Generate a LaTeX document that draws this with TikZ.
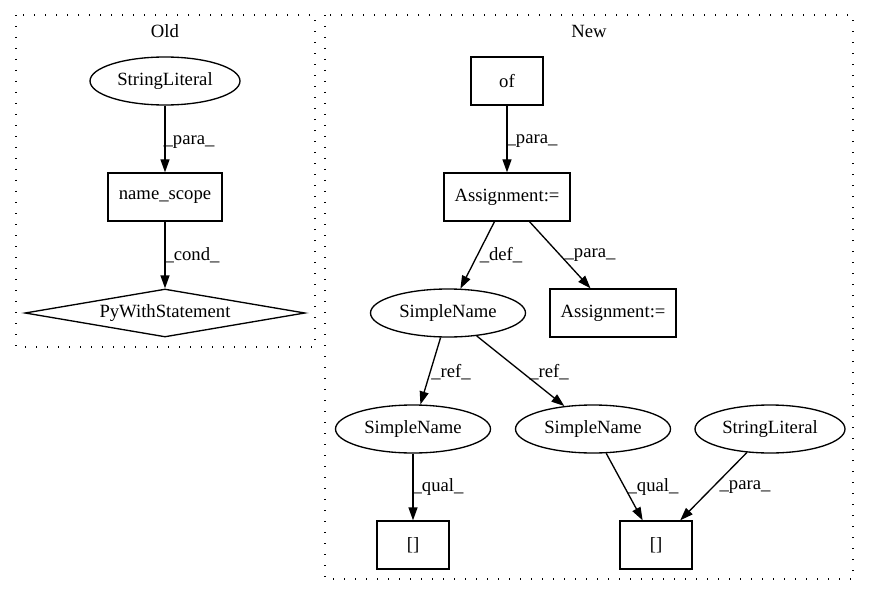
\documentclass[tikz,border=0pt]{standalone}
\usepackage{fontspec}
\setmainfont{Liberation Serif}
\usetikzlibrary{arrows.meta, shapes.geometric}

\begin{document}
\begin{tikzpicture}[x=1pt, y=-1pt, font=\fontsize{18.67}{22}\selectfont,
    ell/.style={ellipse, draw, line width=1.33pt, inner sep=0pt, minimum height=48pt},
    box/.style={rectangle, draw, line width=1.33pt, inner sep=0pt, minimum height=48pt},
    dia/.style={diamond, draw, line width=1.33pt, inner sep=0pt, aspect=5.83, minimum width=280pt, minimum height=48pt},
    arr/.style={-{Triangle[length=13pt, width=9pt]}, line width=1.33pt},
    lab/.style={inner sep=0pt},
    clus/.style={line width=1.33pt, dash pattern=on 1.33pt off 9.67pt}]
      \useasboundingbox (0,0) rectangle (869,596);

      \draw[clus] (16,15) rectangle (315,347);
      \node[lab] (old) at (165,31) {Old};
      \node[ell, minimum width=150pt] (sl) at (165,81) {StringLiteral};
      \node[box, minimum width=114pt] (ns) at (165,197) {name\_scope};
      \node[dia] (pws) at (165,313) {PyWithStatement};

      \draw[arr] (sl) -- (ns) node[lab] at (189,142) {\_para\_};
      \draw[arr] (ns) -- (pws) node[lab] at (192,255) {\_cond\_};

      \draw[clus] (325,15) rectangle (853,579);
      \node[lab] (new) at (589,31) {New};
      \node[box, minimum width=72pt] (of) at (507,81) {of};
      \node[box, minimum width=126pt] (asg) at (507,197) {Assignment:=};
      \node[ell, minimum width=155pt] (sn) at (448,313) {SimpleName};
      \node[box, minimum width=126pt] (asg2) at (613,313) {Assignment:=};
      \node[ell, minimum width=155pt] (sn1) at (413,429) {SimpleName};
      \node[ell, minimum width=155pt] (sn2) at (593,429) {SimpleName};
      \node[ell, minimum width=150pt] (sl2) at (770,429) {StringLiteral};
      \node[box, minimum width=72pt] (br1) at (413,545) {[]};
      \node[box, minimum width=72pt] (br2) at (656,545) {[]};

      \draw[arr] (of) -- (asg) node[lab] at (532,141) {\_para\_};
      \draw[arr] (asg) -- (sn) node[lab] at (501,255) {\_def\_};
      \draw[arr] (asg) -- (asg2) node[lab] at (590,255) {\_para\_};
      \draw[arr] (sn) -- (sn1) node[lab] at (451,372) {\_ref\_};
      \draw[arr] (sn) -- (sn2) node[lab] at (549,372) {\_ref\_};
      \draw[arr] (sn1) -- (br1) node[lab] at (438,487) {\_qual\_};
      \draw[arr] (sn2) -- (br2) node[lab] at (653,487) {\_qual\_};
      \draw[arr] (sl2) -- (br2) node[lab] at (745,487) {\_para\_};
\end{tikzpicture}
\end{document}
